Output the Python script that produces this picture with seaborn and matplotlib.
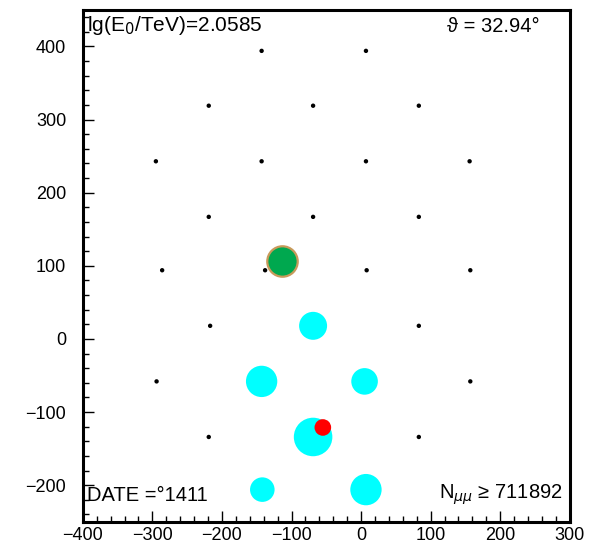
import matplotlib
matplotlib.use("Agg")
import matplotlib.pyplot as plt
import pandas as pd
import seaborn as sns
from matplotlib.ticker import MultipleLocator

# Detector stations (x, y in m)
station_x = [-143, 7,
             -219, -69, 83,
             -295, -143, 7, 156,
             -219, -69, 83,
             -286, -138, 8, 157,
             -217, -69, 83,
             -294, -143, 5, 157,
             -219, -69, 83,
             -142, 7]
station_y = [394, 394,
             319, 319, 319,
             243, 243, 243, 243,
             167, 167, 167,
             94, 94, 94, 94,
             18, 18, 18,
             -58, -58, -58, -58,
             -134, -134, -134,
             -206, -206]

# Stations with a signal and their amplitude
hit_x = [-69, -143, 5, -69, -142, 7]
hit_y = [18, -58, -58, -134, -206, -206]
hit_amp = [196, 246, 177, 372, 151, 246]

# Shower core (red) and second marker (green)
core_x = [-55]
core_y = [-121]
peak_x = [-113]
peak_y = [107]

label_energy = r"lg(E$_0$/TeV)=2.0585"
label_theta = "ϑ = 32.94°"
label_date = "DATE =°1411"
label_nmu = r"N$_{\mu\mu}$ ≥ 711892"


def main():
    sns.set_style("white")
    plt.rcParams["font.family"] = ["Liberation Sans", "DejaVu Sans"]
    plt.rcParams["axes.unicode_minus"] = True
    plt.rcParams["text.color"] = "black"
    plt.rcParams["xtick.color"] = "black"
    plt.rcParams["ytick.color"] = "black"

    stations = pd.DataFrame({"x": station_x, "y": station_y})
    hits = pd.DataFrame({"x": hit_x, "y": hit_y, "amp": hit_amp})
    core = pd.DataFrame({"x": core_x, "y": core_y})
    peak = pd.DataFrame({"x": peak_x, "y": peak_y})

    fig = plt.figure(figsize=(5.96, 5.51), dpi=100)
    ax = fig.add_axes([0.139, 0.053, 0.817, 0.929])

    sns.scatterplot(data=stations, x="x", y="y", ax=ax, color="black",
                    s=10, edgecolor="none", zorder=2)
    sns.scatterplot(data=hits, x="x", y="y", size="amp", sizes=(0, 828),
                    size_norm=(0, 400), ax=ax, color="#00ffff",
                    edgecolor="none", legend=False, zorder=3)
    sns.scatterplot(data=core, x="x", y="y", ax=ax, color="#ff0000",
                    s=143, edgecolor="none", zorder=4)
    sns.scatterplot(data=peak, x="x", y="y", ax=ax, color="#00a84f",
                    s=480, edgecolor="#c89a5a", linewidth=1.6, zorder=4)

    ax.set_xlim(-400, 300)
    ax.set_ylim(-250, 450)
    ax.set_xlabel("")
    ax.set_ylabel("")

    ax.xaxis.set_major_locator(MultipleLocator(100))
    ax.xaxis.set_minor_locator(MultipleLocator(20))
    ax.yaxis.set_major_locator(MultipleLocator(100))
    ax.yaxis.set_minor_locator(MultipleLocator(20))
    ax.tick_params(which="both", direction="in", top=False, right=False,
                   bottom=True, left=True, color="black", width=1)
    ax.tick_params(which="major", length=8, labelsize=13,
                   labelcolor="black")
    ax.tick_params(axis="x", which="major", pad=4)
    ax.tick_params(axis="y", which="major", pad=12)
    ax.tick_params(which="minor", length=4)

    for side in ["left", "right", "top", "bottom"]:
        ax.spines[side].set_visible(True)
        ax.spines[side].set_color("black")
        ax.spines[side].set_linewidth(2.2)

    ax.text(0.008, 0.992, label_energy, transform=ax.transAxes,
            ha="left", va="top", fontsize=15)
    ax.text(0.938, 0.986, label_theta, transform=ax.transAxes,
            ha="right", va="top", fontsize=14.5)
    ax.text(0.008, 0.052, label_date, transform=ax.transAxes,
            ha="left", va="center", fontsize=14.5)
    ax.text(0.985, 0.052, label_nmu, transform=ax.transAxes,
            ha="right", va="center", fontsize=14.5)

    fig.savefig("out.png", dpi=100)
    plt.close(fig)


if __name__ == "__main__":
    main()
